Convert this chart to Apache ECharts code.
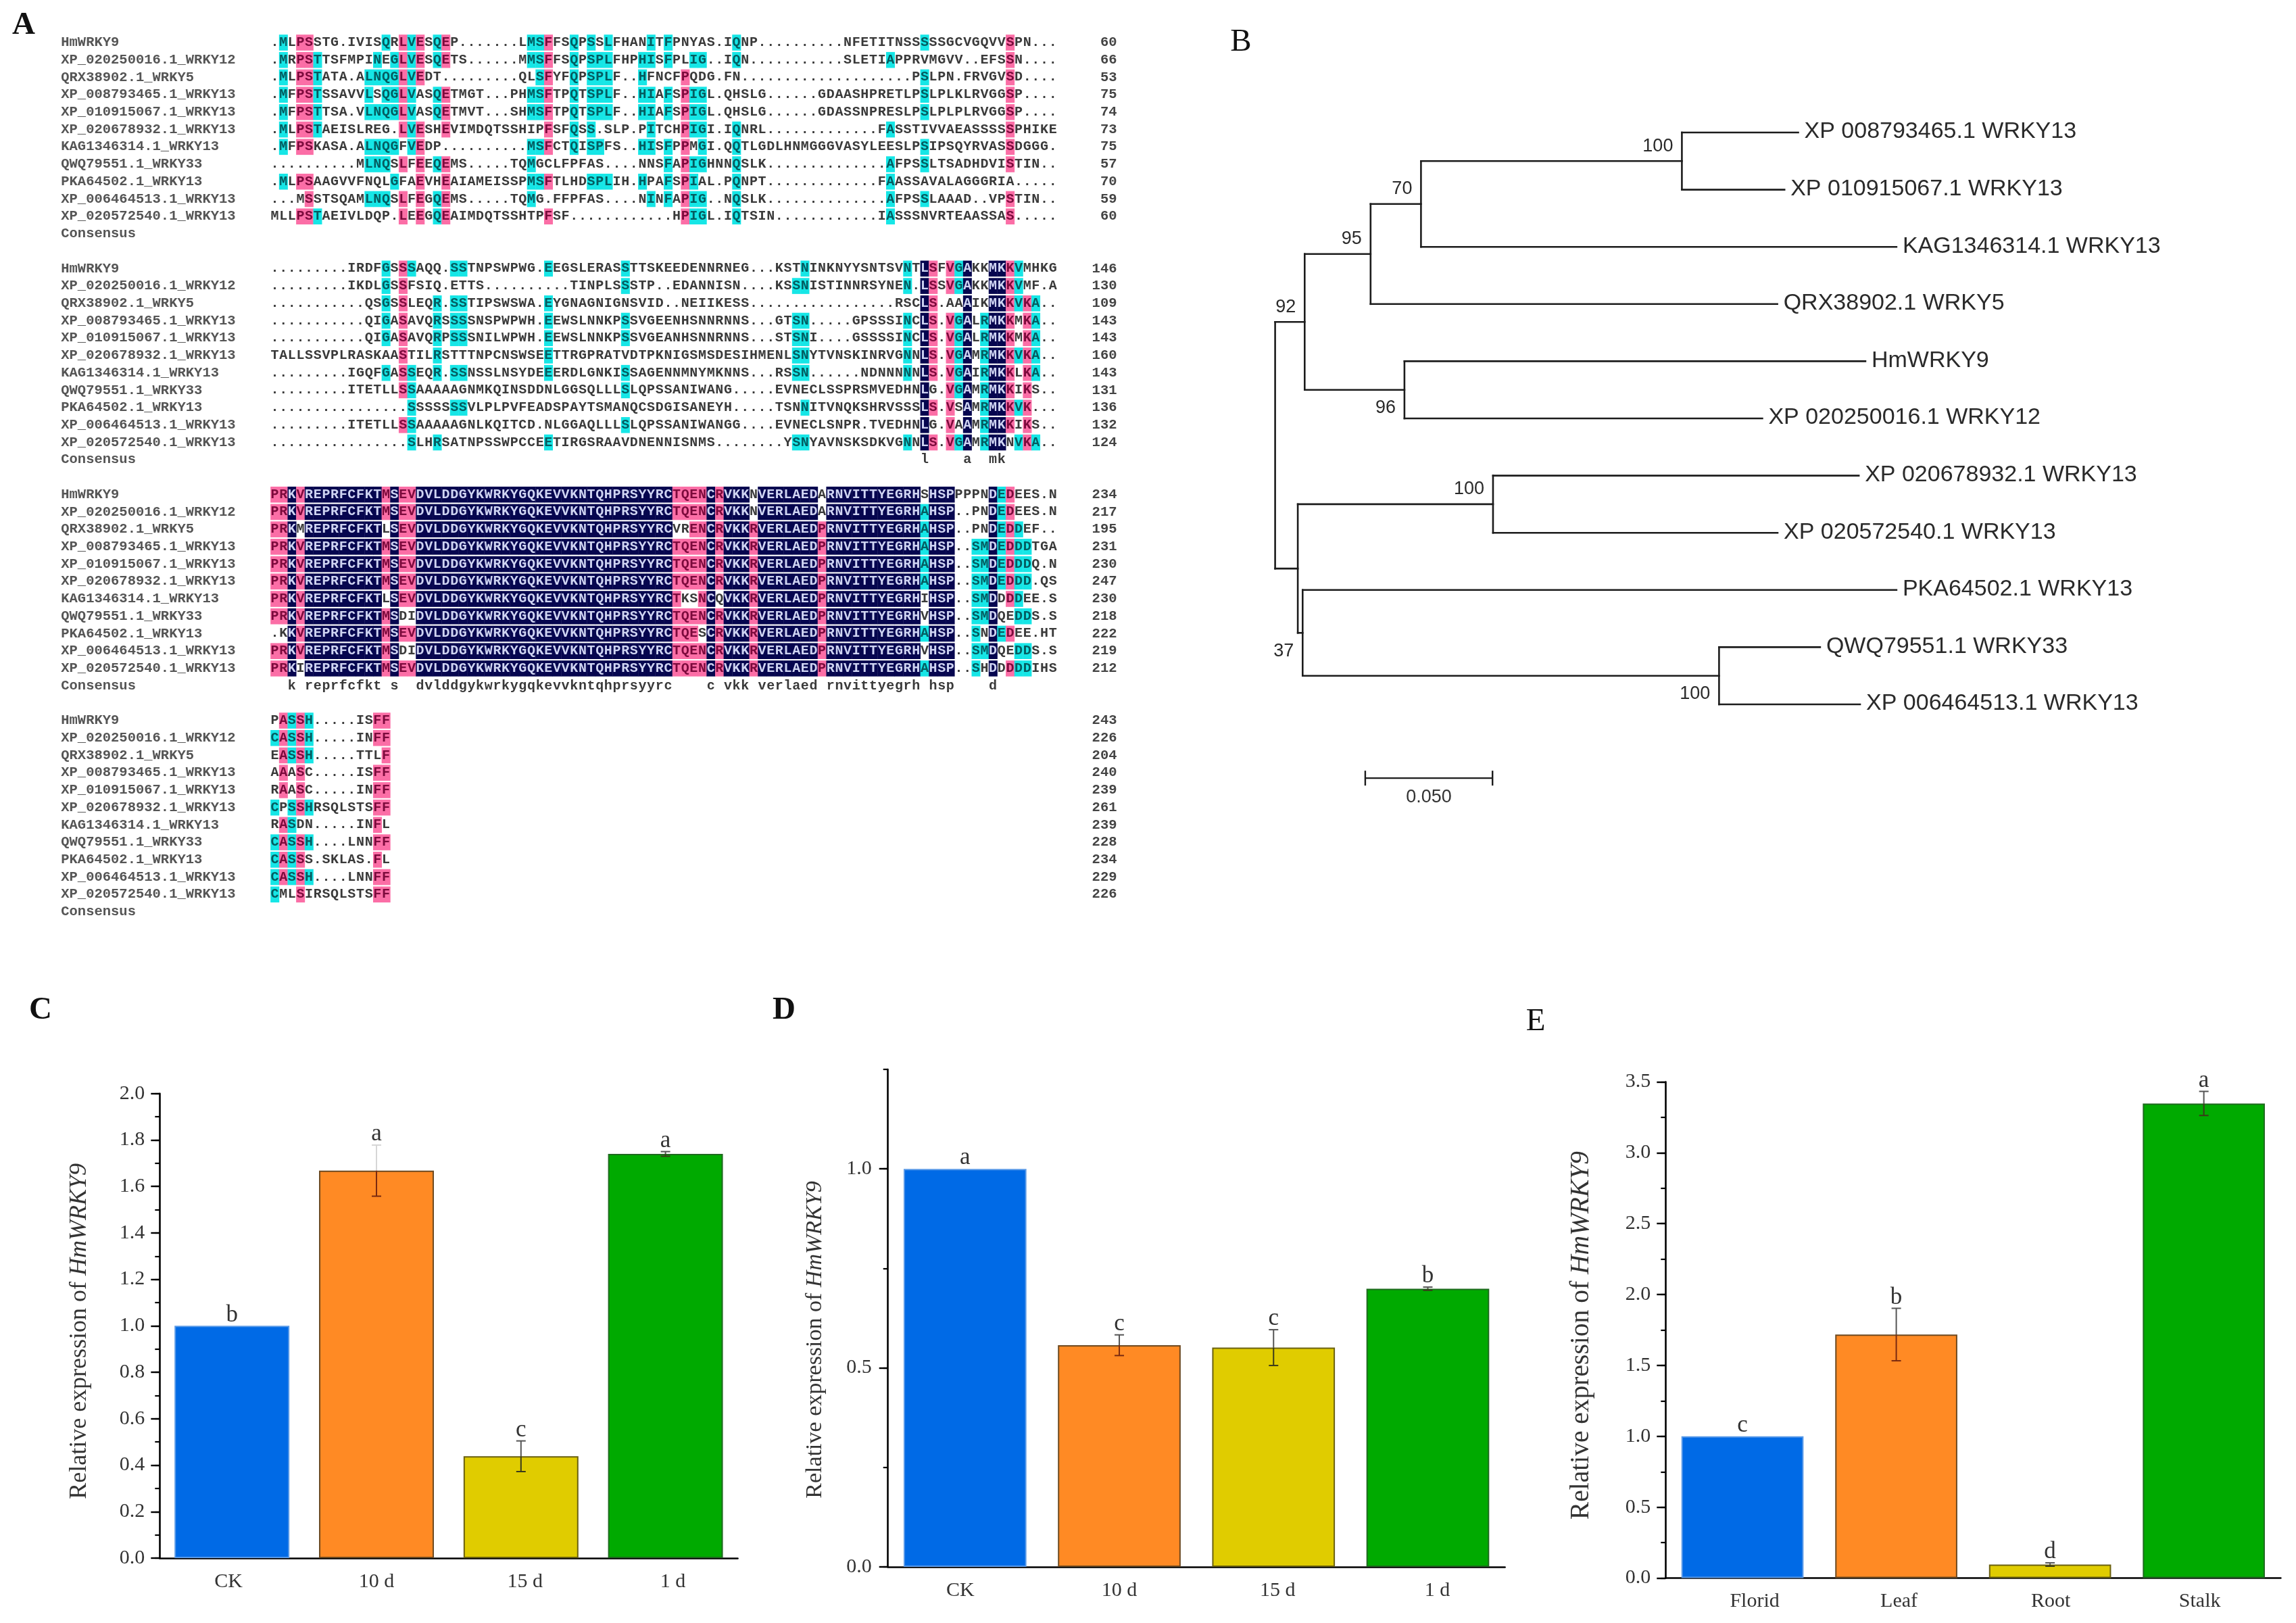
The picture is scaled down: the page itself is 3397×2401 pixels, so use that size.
<!DOCTYPE html>
<html><head><meta charset="utf-8">
<style>html,body{margin:0;padding:0;background:#fff}#c{width:3397px;height:2401px}</style>
<script src="https://cdn.jsdelivr.net/npm/echarts@6/dist/echarts.min.js"></script>
</head><body><div id="c"></div>
<script>
// ---------- Panel A: multiple sequence alignment ----------
const seqNames = ["HmWRKY9","XP_020250016.1_WRKY12","QRX38902.1_WRKY5","XP_008793465.1_WRKY13","XP_010915067.1_WRKY13","XP_020678932.1_WRKY13","KAG1346314.1_WRKY13","QWQ79551.1_WRKY33","PKA64502.1_WRKY13","XP_006464513.1_WRKY13","XP_020572540.1_WRKY13"];
const alignBlock1 = [
".MLPSSTG.IVISQRLVESQEP"+"......."+"LMSFFSQ"+"PSSLFHANITFPNYAS"+"."+"IQNP"+".........."+"NFETITNSSSSSGCVGQVVSPN"+"...",
".MRPSTTSFMPINEGLVESQETS"+"......"+"MMSFFSQ"+"PSPLFHPHISFPLIG"+".."+"IQN"+"..........."+"SLETIAPPRVMGVV"+".."+"EFSSN"+"....",
".MLPSTATA.ALNQGLVEDT"+"........."+"QLSFYFQ"+"PSPLF"+".."+"HFNCFPQDG"+"."+"FN"+"...................."+"PSLPN.FRVGVSD"+"....",
".MFPSTSSAVVLSQGLVASQETMGT"+"..."+"PHMSFTPQ"+"TSPLF"+".."+"HIAFSPIGL"+"."+"QHSLG"+"......"+"GDAASHPRETLPSLPLKLRVGGSP"+"....",
".MFPSTTSA.VLNQGLVASQETMVT"+"..."+"SHMSFTPQ"+"TSPLF"+".."+"HIAFSPIGL"+"."+"QHSLG"+"......"+"GDASSNPRESLPSLPLPLRVGGSP"+"....",
".MLPSTAEISLREG.LVESHEVIMDQTSSHIPFSFQ"+"SS.SLP.PITCHPIGI"+"."+"IQNRL"+"............."+"FASSTIVVAEASSSSSPHIKE",
".MFPSKASA.ALNQGFVEDP"+".........."+"MSFCTQ"+"ISPFS"+".."+"HISFPPMGI"+"."+"QQTLGDLHNMGGGVASYLEESLPS"+"IPSQYRVASSDGGG.",
".........."+"MLNQSLFEEQEMS"+"....."+"TQMGCLFP"+"FAS"+"...."+"NNSFAPIGHNNQSLK"+".............."+"AFPSSLTSADHDVISTIN"+"..",
".MLPSAAGVVFNQLGFAEVHEAIAMEISSPMSFTLH"+"DSPLIH."+"HPAFSPIAL"+"."+"PQNPT"+"............."+"FAASSAVALAGGGRIA"+".....",
"...MSSTSQAMLNQSLFEGQEMS"+"....."+"TQMG.FFP"+"FAS"+"...."+"NINFAPIG"+".."+"NQSLK"+".............."+"AFPSSLAAAD..VPSTIN"+"..",
"MLLPSTAEIVLDQP.LEEGQE"+"AIMDQTSSHTPFSF."+"..........."+"HPIGL"+"."+"IQTSIN"+"............"+"IASSSNVRTEAASSAS"+"....."
];
const alignBlock2 = [
"........."+"IRDFGSSSAQQ"+"."+"SSTNPSWPWG"+"."+"EEGS"+"LERASSTTSKEEDENNRNEG"+"..."+"KSTN"+"INKNYYSNTSVNT"+"LSFVGAKKMKKVMHKG",
"........."+"IKDLGSSFSIQ"+"."+"ETTS"+".........."+"T"+"INPLSSSTP"+".."+"EDANNISN"+"...."+"KSSN"+"ISTINNRSYNEN"+"."+"LSSVGAKKMKKVMF.A",
"..........."+"QSGSSLEQR"+"."+"SSTIPSWSWA"+"."+"EYGN"+"AGNIGNSVID"+".."+"NEIIKESS"+"................."+"RSC"+"LS.AAAIKMKKVKA..",
"..........."+"QIGASAVQRSSSSNSPWPWH"+"."+"EEWS"+"LNNKPSSVGEENHSNNRNNS"+"..."+"GTSN"+"....."+"GPSSSINC"+"LS.VGALRMKKMKA..",
"..........."+"QIGASAVQRPSSSNILWPWH"+"."+"EEWS"+"LNNKPSSVGEANHSNNRNNS"+"..."+"STSNI"+"...."+"GSSSSINC"+"LS.VGALRMKKMKA..",
"TALLSSVPLRASKAASTILR"+"STTTNPCNSWSEETTR"+"GPRATVDTPKNIGSMSDESIHMENLSN"+"YTVNSKINRVGNN"+"LS.VGAMRMKKVKA..",
"........."+"IGQFGASSEQR"+"."+"SSNSSLNSYDEEERD"+"LGNKISSAGENNMNYMKNNS"+"..."+"RSSN"+"......"+"NDNNNNN"+"LS.VGAIRMKKLKA..",
"........."+"ITETLLSSAAAAAGNMKQINSDDNLGG"+"SQLLLSLQPSSANIWANG"+"....."+"EVNE"+"CLSSPRSMVEDHN"+"LG.VGAMRMKKIKS..",
"................"+"SSSSSSSVLPLPVFEADSPA"+"YTSMANQCSDGISANEYH"+"....."+"TSNN"+"ITVNQKSHRVSSS"+"LS.VSAMRMKKVK...",
"........."+"ITETLLSSAAAAAGNLKQITCD.NLGG"+"AQLLLSLQPSSANIWANGG"+"...."+"EVNE"+"CLSNPR.TVEDHN"+"LG.VAAMRMKKIKS..",
"................"+"SLHRSATNPSSWPCCEETIR"+"GSRAAVDNENNISNMS"+"........"+"YSN"+"YAVNSKSDKVGNN"+"LS.VGAMRMKNVKA.."
];
const wrkyDomain = "DVLDDGYKWRKYGQKEVVKNTQHPRSYYRC";
const alignBlock3 = [
"PRKVREPRFCFKTMSEV"+wrkyDomain+"TQENCRVKKNVERLAEDARNVITTYEGRHSHSP"+"PPPNDEDEES.N",
"PRKVREPRFCFKTMSEV"+wrkyDomain+"TQENCRVKKNVERLAEDARNVITTYEGRHAHSP"+"..PNDEDEES.N",
"PRKMREPRFCFKTLSEV"+wrkyDomain+"VRENCRVKKRVERLAEDPRNVITTYEGRHAHSP"+"..PNDEDDEF..",
"PRKVREPRFCFKTMSEV"+wrkyDomain+"TQENCRVKKRVERLAEDPRNVITTYEGRHAHSP"+"..SMDEDDDTGA",
"PRKVREPRFCFKTMSEV"+wrkyDomain+"TQENCRVKKRVERLAEDPRNVITTYEGRHAHSP"+"..SMDEDDDQ.N",
"PRKVREPRFCFKTMSEV"+wrkyDomain+"TQENCRVKKRVERLAEDPRNVITTYEGRHAHSP"+"..SMDEDDD.QS",
"PRKVREPRFCFKTLSEV"+wrkyDomain+"TKSNCQVKKRVERLAEDPRNVITTYEGRHIHSP"+"..SMDDDDEE.S",
"PRKVREPRFCFKTMSDI"+wrkyDomain+"TQENCRVKKRVERLAEDPRNVITTYEGRHVHSP"+"..SMDQEDDS.S",
".KKVREPRFCFKTMSEV"+wrkyDomain+"TQESCRVKKRVERLAEDPRNVITTYEGRHAHSP"+"..SNDEDEE.HT",
"PRKVREPRFCFKTMSDI"+wrkyDomain+"TQENCRVKKRVERLAEDPRNVITTYEGRHVHSP"+"..SMDQEDDS.S",
"PRKIREPRFCFKTMSEV"+wrkyDomain+"TQENCRVKKRVERLAEDPRNVITTYEGRHAHSP"+"..SHDDDDDIHS"
];
const alignBlock4 = ["PASSH.....ISFF","CASSH.....INFF","EASSH.....TTLF","AAASC.....ISFF","RAASC.....INFF","CPSSHRSQLSTSFF","RASDN.....INFL","CASSH....LNNFF","CASSS.SKLAS.FL","CASSH....LNNFF","CMLSIRSQLSTSFF"];
const endNumbers1 = [60,66,53,75,74,73,75,57,70,59,60];
const endNumbers2 = [146,130,109,143,143,160,143,131,136,132,124];
const endNumbers3 = [234,217,195,231,230,247,230,218,222,219,212];
const endNumbers4 = [243,226,204,240,239,261,239,228,234,229,226];

// ---------- Panel B: neighbour-joining tree ----------
const treeLabels   = ["root","n92","n95","n70","n100a","XP 008793465.1 WRKY13","XP 010915067.1 WRKY13","KAG1346314.1 WRKY13","QRX38902.1 WRKY5","n96","HmWRKY9","XP 020250016.1 WRKY12","nB","n100b","XP 020678932.1 WRKY13","XP 020572540.1 WRKY13","n37","PKA64502.1 WRKY13","n100c","QWQ79551.1 WRKY33","XP 006464513.1 WRKY13"];
const treeParents  = [-1,0,1,2,3,4,4,3,2,1,9,9,0,12,13,13,12,16,16,18,18];
const branchLengths= [0,0.0116,0.0259,0.0198,0.1025,0.0457,0.0403,0.1868,0.1598,0.0392,0.1811,0.1406,0.0089,0.0767,0.1437,0.1118,0.0019,0.2333,0.1636,0.0397,0.0554];
const bootstrapVal = [null,92,95,70,100,null,null,null,null,96,null,null,null,100,null,null,37,null,100,null,null];
const scaleBarLength = 0.05;
const scaleBarLabel = "0.050";

// ---------- Panels C, D, E: bars ----------
const catsC = ["CK","10 d","15 d","1 d"];
const valsC = [1.0,1.668,0.4385,1.74];
const errsC = [0,0.11,0.066,0.01];
const sigC  = ["b","a","c","a"];
const ticksC = [0,0.2,0.4,0.6,0.8,1.0,1.2,1.4,1.6,1.8,2.0];
const catsD = ["CK","10 d","15 d","1 d"];
const valsD = [1.0,0.557,0.551,0.699];
const errsD = [0,0.026,0.045,0.004];
const sigD  = ["a","c","c","b"];
const ticksD = [0,0.5,1.0];
const catsE = ["Florid","Leaf","Root","Stalk"];
const valsE = [1.0,1.718,0.096,3.348];
const errsE = [0,0.185,0.012,0.085];
const sigE  = ["c","b","d","a"];
const ticksE = [0,0.5,1.0,1.5,2.0,2.5,3.0,3.5];

// ---------- styling ----------
const FILL = ['#006ae6','#ff8a24','#e0cc00','#00aa00'];
const EDGE = ['#5a9ae8','#6e4a20','#6a6010','#1f6a1f'];
const SERIF = '"Liberation Serif", serif';
const MONO = '"Liberation Mono", monospace';
const SANS = '"Liberation Sans", Arial, sans-serif';

// alignment → cells
const allBlocks = [alignBlock1,alignBlock2,alignBlock3,alignBlock4];
const allEnds = [endNumbers1,endNumbers2,endNumbers3,endNumbers4];
const cells = [], rowTexts = [];
const NAVY='#06064f', PINK='#fb6ea6', CYAN='#16e6e6';
allBlocks.forEach((blk,b)=>{
  const base=b*13, len=blk[0].length;
  let cons='';
  for(let c=0;c<len;c++){
    const cnt={}; blk.forEach(s=>{const ch=s[c]; if(ch&&ch!=='.')cnt[ch]=(cnt[ch]||0)+1;});
    let top=null,n=0; for(const k in cnt) if(cnt[k]>n){n=cnt[k];top=k;}
    const lv = n===blk.length?3:(n>=9?2:(n>=6?1:0));
    cons += lv===3?top.toLowerCase():' ';
    blk.forEach((s,i)=>{ cells.push({c,r:base+i,ch:s[c],lv:(s[c]===top?lv:0)}); });
  }
  [...cons].forEach((ch,c)=>{ if(ch!==' ') cells.push({c,r:base+11,ch,lv:0,cons:true}); });
  seqNames.forEach((nm,i)=>rowTexts.push({r:base+i,name:nm,end:allEnds[b][i]}));
  rowTexts.push({r:base+11,name:'Consensus',end:''});
});

// tree layout from the parent table
const children=treeParents.map(()=>[]);
treeParents.forEach((p,i)=>{if(p>=0)children[p].push(i);});
const tx=[],ty=[]; let leaf=0;
(function place(i,x){ tx[i]=x+branchLengths[i];
  if(!children[i].length){ty[i]=leaf++;return;}
  children[i].forEach(k=>place(k,tx[i]));
  ty[i]=(ty[children[i][0]]+ty[children[i][children[i].length-1]])/2;
})(0,0);
const treeSegs=[];
treeParents.forEach((p,i)=>{ if(p>=0) treeSegs.push([tx[p],ty[i],tx[i],ty[i]]);
  if(children[i].length){const a=children[i];treeSegs.push([tx[i],ty[a[0]],tx[i],ty[a[a.length-1]]]);} });
const scaleX0=0.0354, scaleY=11.29;

// bar panel layouts (px)
const panels=[
 {id:'C',cats:catsC,vals:valsC,errs:errsC,sig:sigC,ticks:ticksC,minor:0.1,max:2.0,left:236.3,right:1091.5,top:1617.7,bottom:2305,gap:101,nameSize:36,namePad:16,labelShift:[-5,0,6,11],fontY:30,barW:'79.5%',labelMargin:22},
 {id:'D',cats:catsD,vals:valsD,errs:errsD,sig:sigD,ticks:ticksD,minor:0.25,max:1.25,left:1313.7,right:2226.6,top:1582,bottom:2318,gap:91,nameSize:34,namePad:64,labelShift:[-7,0,6,14],fontY:30,barW:'79.6%',labelMargin:24},
 {id:'E',cats:catsE,vals:valsE,errs:errsE,sig:sigE,ticks:ticksE,minor:0.25,max:3.5,left:2464.3,right:3374.4,top:1600.5,bottom:2334.6,gap:105,nameSize:39.5,namePad:16,labelShift:[18,4,1,-6],fontY:30,barW:'79.4%',labelMargin:22}
];
const grids=[
 {left:90.25,top:50.14,width:1581.25,height:1311.7},
 {left:1886.6,top:111.4,width:1506.4,height:1099.8},
 ...panels.map(p=>({left:p.left,top:p.top,width:p.right-p.left,height:p.bottom-p.top}))
];
const hiddenAxis=(i,min,max,inv)=>({type:'value',gridIndex:i,min,max,inverse:!!inv,show:false});
const xAxes=[hiddenAxis(0,-25,100),hiddenAxis(1,0,0.4)];
const yAxes=[hiddenAxis(0,-0.5,50.5,true),hiddenAxis(1,-1,12,true)];
const series=[];

// alignment
series.push({type:'custom',xAxisIndex:0,yAxisIndex:0,silent:true,animation:false,clip:false,z:2,progressive:0,progressiveThreshold:1e9,
 data:cells.map(d=>[d.c,d.r]),
 renderItem(params,api){
  const d=cells[params.dataIndex], p=api.coord([d.c,d.r]), cw=12.65, ch=23.6;
  const kids=[];
  const bg=[null,CYAN,PINK,NAVY][d.lv];
  if(bg) kids.push({type:'rect',shape:{x:p[0]-cw/2,y:p[1]-ch/2,width:cw+0.4,height:ch},style:{fill:bg}});
  const col=d.lv===3?'#cfd4f2':d.lv===2?'#7c0a3c':d.lv===1?'#045c60':'#3a3a3a';
  kids.push({type:'text',style:{x:p[0],y:p[1],text:d.ch,align:'center',verticalAlign:'middle',font:'bold 20px '+MONO,fill:col}});
  return {type:'group',children:kids};
 }});
series.push({type:'custom',xAxisIndex:0,yAxisIndex:0,silent:true,animation:false,clip:false,z:3,
 data:rowTexts.map(d=>[-25,d.r]),
 renderItem(params,api){
  const d=rowTexts[params.dataIndex], a=api.coord([-25,d.r]), b=api.coord([98.5,d.r]);
  return {type:'group',children:[
   {type:'text',style:{x:a[0],y:a[1],text:d.name,align:'left',verticalAlign:'middle',font:'bold 20.5px '+MONO,fill:'#555'}},
   {type:'text',style:{x:b[0],y:b[1],text:String(d.end),align:'right',verticalAlign:'middle',font:'bold 20.5px '+MONO,fill:'#444'}}
  ]};
 }});

// tree
series.push({type:'custom',xAxisIndex:1,yAxisIndex:1,silent:true,animation:false,clip:false,
 data:treeSegs,
 renderItem(params,api){
  const a=api.coord([api.value(0),api.value(1)]), b=api.coord([api.value(2),api.value(3)]);
  return {type:'line',shape:{x1:a[0],y1:a[1],x2:b[0],y2:b[1]},style:{stroke:'#1c1c1c',lineWidth:2.6,lineCap:'square'}};
 }});
const leafIdx=treeLabels.map((_,i)=>i).filter(i=>!children[i].length);
series.push({type:'custom',xAxisIndex:1,yAxisIndex:1,silent:true,animation:false,clip:false,
 data:leafIdx.map(i=>[tx[i],ty[i]]),
 renderItem(params,api){
  const i=leafIdx[params.dataIndex], p=api.coord([tx[i],ty[i]]);
  return {type:'text',style:{x:p[0]+9,y:p[1]-1,text:treeLabels[i],align:'left',verticalAlign:'middle',font:'34px '+SANS,fill:'#2a2a2a'}};
 }});
const bootIdx=bootstrapVal.map((v,i)=>v===null?-1:i).filter(i=>i>=0);
series.push({type:'custom',xAxisIndex:1,yAxisIndex:1,silent:true,animation:false,clip:false,
 data:bootIdx.map(i=>[tx[i],ty[i]]),
 renderItem(params,api){
  const i=bootIdx[params.dataIndex], p=api.coord([tx[i],ty[i]]);
  const below=(i===9||i===16||i===18);
  return {type:'text',style:{x:p[0]-13,y:p[1]+(below?27:-22),text:String(bootstrapVal[i]),align:'right',verticalAlign:'middle',font:'27px '+SANS,fill:'#2a2a2a'}};
 }});
series.push({type:'custom',xAxisIndex:1,yAxisIndex:1,silent:true,animation:false,clip:false,
 data:[[scaleX0,scaleY,scaleX0+scaleBarLength]],
 renderItem(params,api){
  const a=api.coord([api.value(0),api.value(1)]), b=api.coord([api.value(2),api.value(1)]);
  const s={stroke:'#1c1c1c',lineWidth:2.4};
  return {type:'group',children:[
   {type:'line',shape:{x1:a[0],y1:a[1],x2:b[0],y2:b[1]},style:s},
   {type:'line',shape:{x1:a[0],y1:a[1]-11,x2:a[0],y2:a[1]+11},style:s},
   {type:'line',shape:{x1:b[0],y1:b[1]-11,x2:b[0],y2:b[1]+11},style:s},
   {type:'text',style:{x:(a[0]+b[0])/2,y:a[1]+28,text:scaleBarLabel,align:'center',verticalAlign:'middle',font:'27px '+SANS,fill:'#333'}}
  ]};
 }});

// bar panels
panels.forEach((p,k)=>{
 const g=k+2, xi=xAxes.length, yi=yAxes.length;
 const rich={}; p.labelShift.forEach((s,i)=>{rich['s'+i]={fontFamily:SERIF,fontSize:30,color:'#333',padding:s>=0?[0,0,0,2*s]:[0,-2*s,0,0]};});
 xAxes.push({type:'category',gridIndex:g,position:'bottom',data:p.cats,
   axisLine:{onZero:false,lineStyle:{color:'#000',width:2.6}},
   axisTick:{alignWithLabel:true,length:13,lineStyle:{color:'#000',width:2.4}},
   axisLabel:{margin:20,interval:0,color:'#333',formatter:(v,i)=>`{s${i}|${v}}`,rich}});
 xAxes.push({type:'category',gridIndex:g,position:'bottom',data:p.cats,
   axisLine:{show:false,onZero:false},axisLabel:{show:false},
   axisTick:{alignWithLabel:false,length:7,lineStyle:{color:'#000',width:2.2}}});
 yAxes.push({type:'value',gridIndex:g,position:'left',min:0,max:p.max,splitLine:{show:false},
   axisLine:{show:true,onZero:false,lineStyle:{color:'#000',width:2.6}},
   axisTick:{show:true,length:13,customValues:p.ticks,lineStyle:{color:'#000',width:2.4}},
   axisLabel:{customValues:p.ticks,margin:p.labelMargin,color:'#333',fontFamily:SERIF,fontSize:p.fontY,formatter:v=>v.toFixed(1)},
   name:'{r|Relative expression of }{i|HmWRKY9}',nameLocation:'middle',nameRotate:90,nameGap:p.gap,
   nameTextStyle:{padding:[0,p.namePad,0,0],rich:{r:{fontFamily:SERIF,fontSize:p.nameSize,color:'#333'},i:{fontFamily:SERIF,fontStyle:'italic',fontSize:p.nameSize,color:'#333'}}}});
 yAxes.push({type:'value',gridIndex:g,position:'left',min:0,max:p.max,interval:p.minor,splitLine:{show:false},
   axisLine:{show:false,onZero:false},axisLabel:{show:false},
   axisTick:{show:true,length:7,lineStyle:{color:'#000',width:2.2}}});
 series.push({type:'bar',name:p.id,xAxisIndex:xi,yAxisIndex:yi,barWidth:p.barW,animation:false,silent:true,z:2,
   data:p.vals.map((v,i)=>({value:v,itemStyle:{color:FILL[i],borderColor:EDGE[i],borderWidth:2}}))});
 series.push({type:'custom',xAxisIndex:xi,yAxisIndex:yi,animation:false,silent:true,z:5,clip:false,
   data:p.vals.map((v,i)=>[i,v,p.errs[i]]),
   renderItem(params,api){
    const i=api.value(0), v=api.value(1), e=api.value(2);
    const x=api.coord([i,0])[0], yv=api.coord([i,v])[1], yt=api.coord([i,v+e])[1], yb=api.coord([i,v-e])[1];
    const kids=[];
    if(e>0){
      const upper=(p.id==='C'&&i===1)?'#d6d6d6':'#555';
      const lower=i===1?'#7a2a10':'#3a3a1a';
      kids.push({type:'line',shape:{x1:x,y1:yt,x2:x,y2:yv},style:{stroke:upper,lineWidth:2}});
      kids.push({type:'line',shape:{x1:x,y1:yv,x2:x,y2:yb},style:{stroke:lower,lineWidth:2}});
      kids.push({type:'line',shape:{x1:x-7,y1:yt,x2:x+7,y2:yt},style:{stroke:upper,lineWidth:2}});
      kids.push({type:'line',shape:{x1:x-7,y1:yb,x2:x+7,y2:yb},style:{stroke:lower,lineWidth:2}});
    }
    kids.push({type:'text',style:{x,y:yt-16,text:p.sig[i],align:'center',verticalAlign:'middle',font:'35px '+SERIF,fill:'#333'}});
    return {type:'group',children:kids};
   }});
});

const letter=(t,x,y,bold)=>({type:'text',x,y,style:{text:t,font:(bold?'bold ':'')+'47px '+SERIF,fill:'#111',textAlign:'center',textVerticalAlign:'middle'}});
const chart=echarts.init(document.getElementById('c'),null,{renderer:'canvas',width:3397,height:2401,devicePixelRatio:1});
chart.setOption({
 backgroundColor:'#fff',animation:false,tooltip:{show:false},legend:{show:false},
 grid:grids,xAxis:xAxes,yAxis:yAxes,series,
 graphic:[letter('A',35,38,true),letter('B',1836,63,false),letter('C',60,1495,true),letter('D',1160,1495,true),letter('E',2272,1512,false)]
});
</script></body></html>
